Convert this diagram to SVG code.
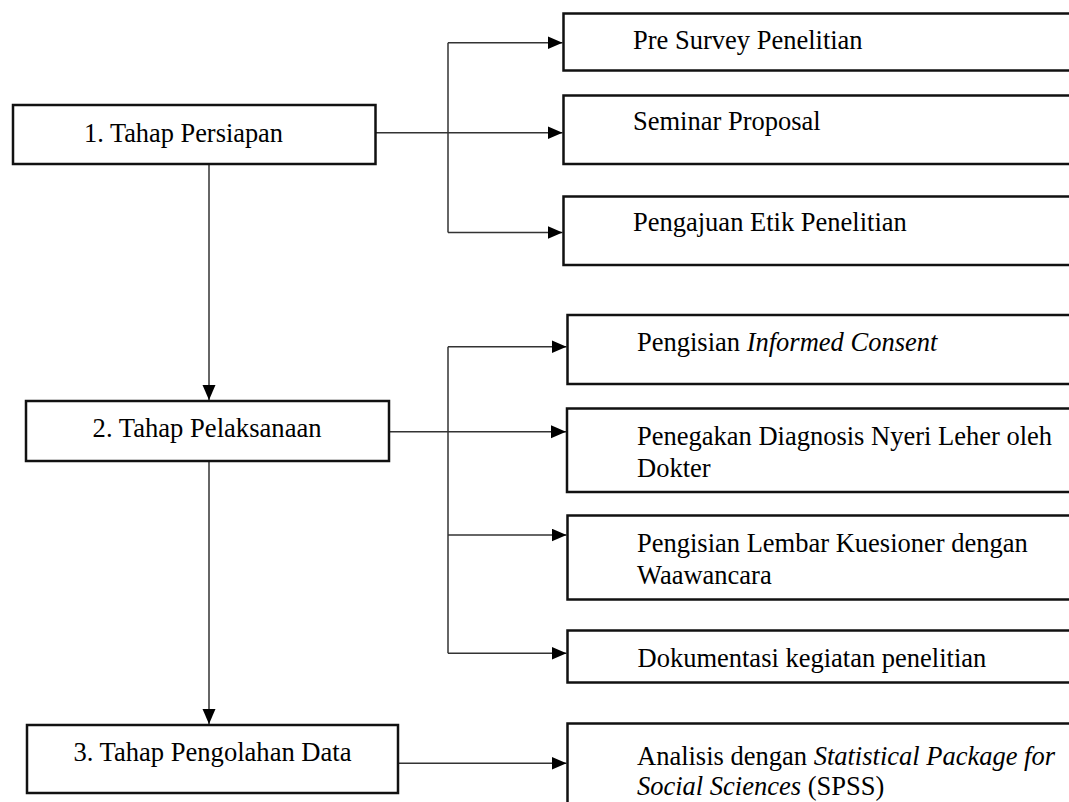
<svg xmlns="http://www.w3.org/2000/svg" width="1069" height="802" viewBox="0 0 1069 802">
<style>
.box{fill:#fff;stroke:#111;stroke-width:2.5}
.conn{fill:none;stroke:#333;stroke-width:1.5}
.lt{font-family:"Liberation Serif","Times New Roman","DejaVu Serif",serif;font-size:27px;fill:#000}
.rt{font-family:"Liberation Serif","Times New Roman","DejaVu Serif",serif;font-size:26.5px;fill:#000}
.it{font-style:italic}
</style>
<defs>
<marker id="ah" markerUnits="userSpaceOnUse" markerWidth="16" markerHeight="14" refX="15" refY="6.5" orient="auto">
<path d="M0,0 L15,6.5 L0,13 z" fill="#000"/>
</marker>
</defs>
<rect width="1069" height="802" fill="#fff"/>
<g id="connectors">
<line class="conn" x1="209" y1="164" x2="209" y2="400" marker-end="url(#ah)"/>
<line class="conn" x1="209" y1="461" x2="209" y2="724" marker-end="url(#ah)"/>
<line class="conn" x1="375.5" y1="132.7" x2="562.5" y2="132.7" marker-end="url(#ah)"/>
<polyline class="conn" points="448,42.7 448,232.5"/>
<line class="conn" x1="448" y1="42.7" x2="562.5" y2="42.7" marker-end="url(#ah)"/>
<line class="conn" x1="448" y1="232.5" x2="562.5" y2="232.5" marker-end="url(#ah)"/>
<line class="conn" x1="389" y1="431.7" x2="566" y2="431.7" marker-end="url(#ah)"/>
<polyline class="conn" points="448,346.7 448,653.3"/>
<line class="conn" x1="448" y1="346.7" x2="566.5" y2="346.7" marker-end="url(#ah)"/>
<line class="conn" x1="448" y1="535" x2="566.5" y2="535" marker-end="url(#ah)"/>
<line class="conn" x1="448" y1="653.3" x2="566.5" y2="653.3" marker-end="url(#ah)"/>
<line class="conn" x1="398" y1="763.3" x2="566.5" y2="763.3" marker-end="url(#ah)"/>
</g>
<g id="n1">
<rect class="box" x="13" y="105" width="362.5" height="59"/>
<text class="lt" x="84" y="141.5" textLength="199" lengthAdjust="spacingAndGlyphs">1. Tahap Persiapan</text>
</g>
<g id="n2">
<rect class="box" x="26" y="401" width="363" height="60"/>
<text class="lt" x="92.6" y="437" textLength="229" lengthAdjust="spacingAndGlyphs">2. Tahap Pelaksanaan</text>
</g>
<g id="n3">
<rect class="box" x="27" y="725" width="371" height="68"/>
<text class="lt" x="73.5" y="761" textLength="278" lengthAdjust="spacingAndGlyphs">3. Tahap Pengolahan Data</text>
</g>
<g id="r1">
<rect class="box" x="563.5" y="13.5" width="600" height="57"/>
<text class="rt" x="633" y="49.3">Pre Survey Penelitian</text>
</g>
<g id="r2">
<rect class="box" x="563.5" y="95.5" width="600" height="68.5"/>
<text class="rt" x="633" y="130">Seminar Proposal</text>
</g>
<g id="r3">
<rect class="box" x="563.5" y="196.5" width="600" height="68.5"/>
<text class="rt" x="633" y="231">Pengajuan Etik Penelitian</text>
</g>
<g id="r4">
<rect class="box" x="567.5" y="315" width="600" height="69"/>
<text class="rt" x="637" y="350.5">Pengisian <tspan class="it">Informed Consent</tspan></text>
</g>
<g id="r5">
<rect class="box" x="567" y="408.5" width="600" height="83.5"/>
<text class="rt" x="637" y="445">Penegakan Diagnosis Nyeri Leher oleh</text>
<text class="rt" x="637" y="477.3">Dokter</text>
</g>
<g id="r6">
<rect class="box" x="567.5" y="515.5" width="600" height="84"/>
<text class="rt" x="637" y="551.7">Pengisian Lembar Kuesioner dengan</text>
<text class="rt" x="637" y="584">Waawancara</text>
</g>
<g id="r7">
<rect class="box" x="567.5" y="630.5" width="600" height="52"/>
<text class="rt" x="637.5" y="666.5">Dokumentasi kegiatan penelitian</text>
</g>
<g id="r8">
<rect class="box" x="567.5" y="723.5" width="600" height="100"/>
<text class="rt" x="637" y="764.5">Analisis dengan <tspan class="it">Statistical Package for</tspan></text>
<text class="rt" x="637" y="795"><tspan class="it">Social Sciences</tspan> (SPSS)</text>
</g>
</svg>
